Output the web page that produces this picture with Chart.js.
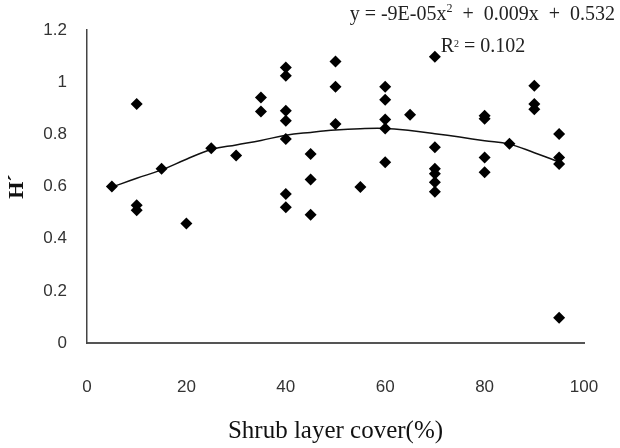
<!DOCTYPE html>
<html>
<head>
<meta charset="utf-8">
<script src="https://cdn.jsdelivr.net/npm/chart.js@4/dist/chart.umd.min.js"></script>
<style>
  html, body { margin: 0; padding: 0; background: #fff; }
  #wrap { width: 620px; height: 448px; }
</style>
</head>
<body>
<div id="wrap"><canvas id="shrub"></canvas></div>
<script>
// shrub layer cover (%) vs H'
const coverX = [
  5, 10, 10, 10, 15, 20, 25, 30, 35, 35,
  40, 40, 40, 40, 40, 40, 40, 45, 45, 45,
  50, 50, 50, 55, 60, 60, 60, 60, 60, 65,
  70, 70, 70, 70, 70, 70, 80, 80, 80, 80,
  85, 90, 90, 90, 95, 95, 95, 95,
];
const diversityH = [
  0.60, 0.917, 0.528, 0.509, 0.668, 0.458, 0.747, 0.719, 0.942, 0.888,
  1.057, 1.025, 0.891, 0.853, 0.783, 0.572, 0.521, 0.725, 0.627, 0.492,
  1.08, 0.983, 0.84, 0.598, 0.983, 0.933, 0.857, 0.823, 0.693, 0.876,
  1.098, 0.751, 0.668, 0.649, 0.617, 0.58, 0.872, 0.86, 0.712, 0.655,
  0.764, 0.987, 0.917, 0.897, 0.802, 0.712, 0.687, 0.097,
];

// trend curve
const trendX = [5, 10, 15, 20, 25, 30, 35, 40, 45, 50, 55, 60, 65, 70, 75, 80, 85, 90, 95];
const trendY = [
  0.598, 0.632, 0.664, 0.705, 0.742, 0.76, 0.777, 0.797, 0.808, 0.817,
  0.822, 0.823, 0.815, 0.803, 0.79, 0.776, 0.763, 0.73, 0.695,
];

const xTicks = [0, 20, 40, 60, 80, 100];
const yTicks = [0, 0.2, 0.4, 0.6, 0.8, 1, 1.2];

const equationText = 'y = -9E-05x';
const equationRest = '  +  0.009x  +  0.532';
const rSquaredText = ' = 0.102';

const tickFont = { family: '"Liberation Sans Narrow", "Liberation Sans", Arial', size: 17 };
const eqFont = '20px "Liberation Serif", serif';

const equationLabel = {
  id: 'equationLabel',
  afterDraw(chart) {
    const { ctx } = chart;
    ctx.save();
    ctx.fillStyle = '#222';
    ctx.textBaseline = 'middle';
    ctx.textAlign = 'left';
    ctx.font = eqFont;
    const w1 = ctx.measureText(equationText).width;
    const w2 = ctx.measureText(equationRest).width;
    ctx.font = '12px "Liberation Serif", serif';
    const wSup = ctx.measureText('2').width;
    let x = 615 - (w1 + wSup + w2);
    ctx.font = eqFont;
    ctx.fillText(equationText, x, 15);
    x += w1;
    ctx.font = '12px "Liberation Serif", serif';
    ctx.fillText('2', x, 9);
    x += wSup;
    ctx.font = eqFont;
    ctx.fillText(equationRest, x, 15);

    // second line
    const wR = ctx.measureText('R').width;
    const wR3 = ctx.measureText(rSquaredText).width;
    ctx.font = '10px "Liberation Serif", serif';
    const wR2 = ctx.measureText('2').width;
    let x2 = 483 - (wR + wR2 + wR3) / 2;
    ctx.font = eqFont;
    ctx.fillText('R', x2, 47);
    x2 += wR;
    ctx.font = '10px "Liberation Serif", serif';
    ctx.fillText('2', x2, 44);
    x2 += wR2;
    ctx.font = eqFont;
    ctx.fillText(rSquaredText, x2, 47);
    ctx.restore();
  },
};

new Chart(document.getElementById('shrub'), {
  type: 'scatter',
  data: {
    datasets: [
      {
        data: coverX.map((x, i) => ({ x, y: diversityH[i] })),
        backgroundColor: '#000',
        borderColor: '#000',
        pointStyle: 'rectRot',
        pointRadius: 6,
        borderWidth: 0,
        order: 0,
      },
      {
        type: 'line',
        data: trendX.map((x, i) => ({ x, y: trendY[i] })),
        borderColor: '#111',
        borderWidth: 1.5,
        pointRadius: 0,
        tension: 0.4,
        fill: false,
        order: 1,
      },
    ],
  },
  options: {
    responsive: true,
    maintainAspectRatio: false,
    animation: false,
    events: [],
    layout: {
      padding: { top: 29, right: 36, left: 0, bottom: 0 },
    },
    plugins: {
      legend: { display: false },
      tooltip: { enabled: false },
    },
    scales: {
      x: {
        type: 'linear',
        min: 0,
        max: 100,
        afterBuildTicks: (scale) => {
          scale.ticks = xTicks.map((v) => ({ value: v }));
        },
        afterFit: (scale) => {
          scale.height = 105;
          // the big tick padding should not widen the side margins
          scale.paddingLeft = 0;
          scale.paddingRight = 0;
        },
        ticks: {
          color: '#333',
          font: tickFont,
          padding: 34,
          maxRotation: 0,
        },
        grid: { display: false, drawTicks: false },
        border: { display: true, color: '#555', width: 2 },
        title: {
          display: true,
          text: 'Shrub layer cover(%)',
          color: '#111',
          font: { family: '"Liberation Serif", serif', size: 25 },
          padding: { top: 0, bottom: 2 },
        },
      },
      y: {
        min: 0,
        max: 1.2,
        afterBuildTicks: (scale) => {
          scale.ticks = yTicks.map((v) => ({ value: v }));
        },
        afterFit: (scale) => {
          scale.width = 87;
        },
        ticks: {
          color: '#333',
          font: tickFont,
          padding: 20,
          callback: (v) => String(+v.toFixed(1)),
        },
        grid: { display: false, drawTicks: false },
        border: { display: true, color: '#444', width: 1.5 },
        title: {
          display: true,
          text: 'H´',
          color: '#111',
          font: { family: '"Liberation Serif", serif', size: 22, weight: 'bold' },
          padding: { top: 4, bottom: 0 },
        },
      },
    },
  },
  plugins: [equationLabel],
});
</script>
</body>
</html>
